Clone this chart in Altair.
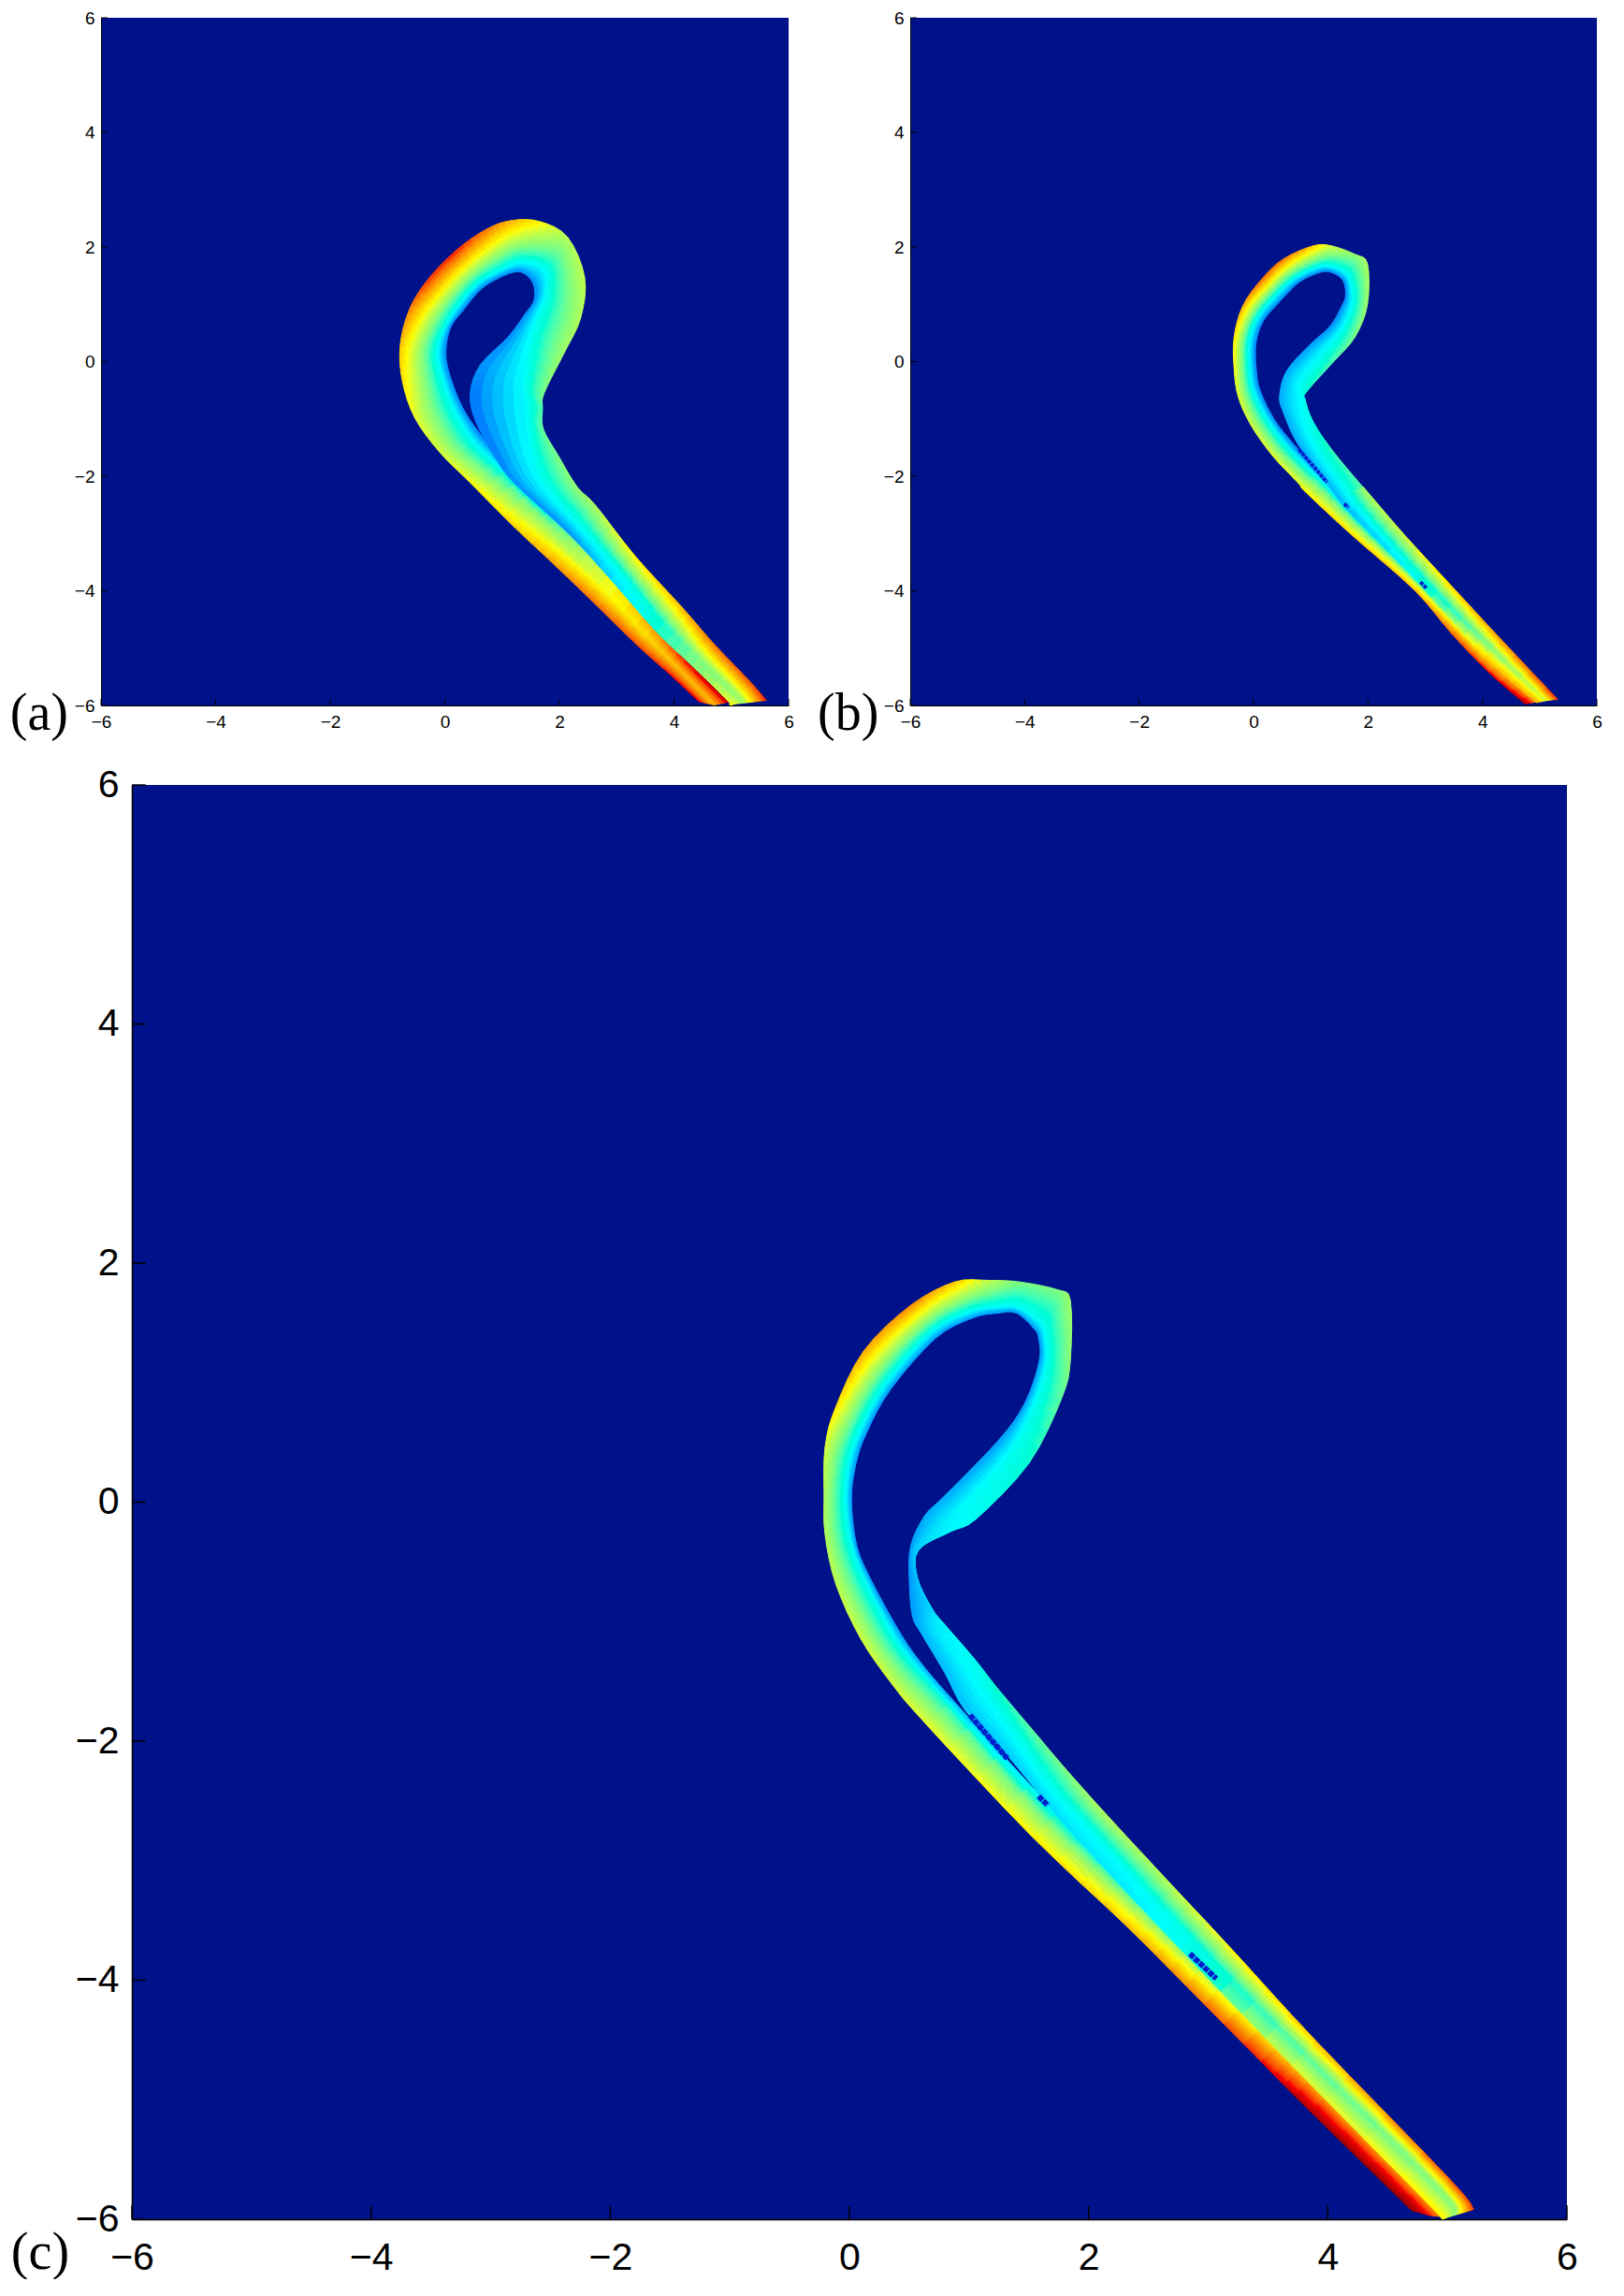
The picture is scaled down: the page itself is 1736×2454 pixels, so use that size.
import altair as alt
import pandas as pd

alt.data_transformers.disable_max_rows()

BG = "#00128a"
JET_STOPS = [0, 0.11, 0.36, 0.5, 0.64, 0.89, 1.0]
JET_COLORS = ["#000080", "#0000ff", "#00ffff", "#80ff80", "#ffff00", "#ff0000", "#800000"]
TICKS = [-6, -4, -2, 0, 2, 4, 6]

# ---- panel (a): cross-sections of the ribbon ----
A_OUTER = [(4.43,-5.93),(3.94,-5.47),(3.37,-4.96),(2.47,-4.08),(1.79,-3.43),(1.216,-2.89),(.40,-2.07),(-.09,-1.58),
           (-.525,-.98),(-.743,-.33),(-.78,.27),(-.634,.87),(-.334,1.385),(.183,1.93),(.727,2.31),(1.162,2.462),
           (1.65,2.446),(2.142,2.174),(2.441,1.466),(2.37,.759),(2.087,.16),(1.734,-.547),(1.706,-.82),(1.717,-1.173),
           (1.978,-1.636),(2.305,-2.18),(2.63,-2.507),(3.31,-3.38),(4.13,-4.275),(4.70,-4.93),(5.325,-5.58),(5.61,-5.91)]
A_TROUGH = [(4.70,-5.99),(4.07,-5.34),(3.53,-4.79),(2.69,-3.87),(2.06,-3.16),(1.54,-2.56),(.84,-1.75),(.45,-1.34),
            (.128,-.765),(-.062,-.22),(-.133,.187),(-.008,.568),(.21,.95),(.574,1.368),(.972,1.602),(1.298,1.738),
            (1.65,1.684),(1.788,1.494),(1.76,1.14),(1.652,.868),(1.489,.378),(1.353,-.33),(1.38,-.71),(1.407,-1.09),
            (1.543,-1.8),(1.815,-2.29),(2.30,-2.83),(3.04,-3.65),(3.83,-4.58),(4.44,-5.19),(5.085,-5.82),(5.19,-5.96)]
A_INNER = [(5.01,-5.93),(4.23,-5.18),(3.70,-4.62),(2.85,-3.70),(2.21,-3.01),(1.65,-2.46),(.94,-1.64),(.59,-1.23),
           (.291,-.765),(.074,-.194),(.019,.187),(.101,.596),(.32,.895),(.645,1.276),(1.053,1.51),(1.325,1.564),
           (1.516,1.412),(1.57,1.22),(1.543,1.031),(1.407,.84),(1.108,.432),(.618,-.06),(.444,-.547),(.536,-1.037),
           (.89,-1.69),(1.217,-2.126),(2.15,-2.99),(2.89,-3.795),(3.69,-4.71),(4.32,-5.31),(4.95,-5.93),(4.96,-5.98)]
A_OUTER_V = [.92,.9,.86,.82,.76,.7,.64,.6,.62,.68,.72,.8,.88,.9,.82,.75,.66,.56,.58,.56,.54,.5,.46,.48,.5,.52,.55,.66,.74,.82,.86,.9]
A_TROUGH_V = [.72,.72,.68,.62,.55,.5,.38,.38,.38,.38,.38,.38,.38,.38,.38,.38,.38,.38,.38,.38,.38,.36,.36,.36,.37,.37,.37,.38,.42,.5,.52,.54]
A_INNER_V = [1.0,.95,.8,.6,.48,.36,.2,.2,.2,.2,.2,.2,.2,.2,.2,.2,.2,.2,.2,.2,.2,.2,.17,.17,.18,.2,.2,.3,.42,.5,.62,.68]
A_SLITS = []

# ---- panel (b) ----
B_OUTER = [(4.74,-5.97),(4.115,-5.427),(3.461,-4.746),(2.808,-3.984),(1.691,-3.004),(.901,-2.268),(.793,-2.131),(.33,-1.641),
           (-.052,-1.097),(-.27,-.606),(-.34,-.116),(-.34,.428),(-.188,.973),(.139,1.436),(.52,1.79),(1.038,2.019),
           (1.364,2.019),(1.773,1.872),(1.991,1.708),(1.991,1.0),(1.773,.428),(1.392,-.007),(.929,-.525),(.902,-.661),
           (1.038,-1.042),(1.364,-1.532),(1.909,-2.186),(1.963,-2.241),(2.644,-3.031),(3.625,-4.093),(4.333,-4.855),(5.313,-5.89)]
B_TROUGH = [(4.85,-5.955),(4.17,-5.373),(3.543,-4.665),(2.873,-3.919),(1.827,-2.867),(1.119,-2.05),(1.038,-1.94),(.602,-1.505),
            (.248,-1.015),(.003,-.536),(-.068,-.116),(-.068,.374),(.084,.783),(.368,1.137),(.711,1.452),(1.147,1.654),
            (1.392,1.654),(1.637,1.518),(1.718,1.245),(1.718,.984),(1.528,.537),(1.147,.129),(.793,-.334),(.738,-.634),
            (.847,-1.0),(1.119,-1.532),(1.555,-2.16),(1.746,-2.459),(2.453,-3.221),(3.434,-4.284),(4.169,-5.019),(5.095,-5.918)]
B_INNER = [(4.96,-5.93),(4.235,-5.307),(3.597,-4.61),(2.933,-3.859),(1.893,-2.802),(1.185,-1.985),(1.108,-1.886),(.684,-1.423),
           (.357,-1.0),(.112,-.497),(.046,-.116),(.041,.32),(.166,.701),(.439,1.028),(.793,1.382),(1.174,1.561),
           (1.392,1.545),(1.566,1.409),(1.61,1.164),(1.544,.973),(1.337,.619),(.956,.265),(.575,-.17),(.455,-.606),
           (.52,-.879),(.765,-1.423),(1.283,-2.131),(1.63,-2.575),(2.36,-3.315),(3.35,-4.37),(4.035,-5.153),(4.94,-5.95)]
B_OUTER_V = [.97,.92,.84,.75,.7,.66,.63,.62,.6,.62,.64,.68,.76,.84,.82,.72,.6,.52,.56,.54,.5,.46,.42,.38,.4,.44,.47,.55,.6,.72,.78,.9]
B_TROUGH_V = [.9,.8,.7,.6,.5,.42,.38,.38,.38,.38,.38,.38,.38,.38,.38,.38,.38,.38,.38,.38,.38,.36,.36,.34,.36,.38,.38,.37,.4,.42,.5,.6]
B_INNER_V = [.78,.72,.55,.4,.35,.25,.2,.2,.2,.2,.2,.2,.2,.2,.2,.2,.2,.2,.2,.2,.2,.22,.24,.24,.24,.24,.25,.25,.3,.5,.72,.75]
B_SLITS = [[(.792,-1.533),(1.283,-2.105)],[(1.582,-2.486),(1.664,-2.541)],[(2.917,-3.848),(3.026,-3.957)]]

# ---- panel (c) ----
C_OUTER = [(4.699,-5.925),(3.851,-5.095),(3.439,-4.678),(2.808,-4.039),(2.286,-3.517),(1.529,-2.80),(.643,-1.86),(.356,-1.522),
           (.095,-1.144),(-.113,-.688),(-.204,-.27),(-.212,.043),(-.204,.46),(-.113,.799),(.122,1.268),(.513,1.647),
           (.878,1.842),(1.165,1.855),(1.426,1.842),(1.739,1.777),(1.848,1.686),(1.848,1.19),(1.778,.877),(1.504,.329),
           (1.061,-.14),(.852,-.244),(.578,-.401),(.57,-.635),(.695,-.896),(.799,-1.026),(1.047,-1.313),(1.23,-1.548),
           (1.516,-1.887),(1.803,-2.226),(2.129,-2.591),(2.599,-3.1),(3.16,-3.70),(3.903,-4.509),(5.025,-5.669),(5.22,-5.917)]
C_TROUGH = [(4.855,-5.969),(3.929,-5.017),(3.517,-4.6),(2.881,-3.966),(2.377,-3.426),(1.647,-2.682),(.812,-1.691),(.525,-1.352),
            (.356,-1.092),(.148,-.688),(.017,-.349),(-.03,.022),(.004,.355),(.101,.629),(.309,1.0),(.682,1.425),
            (1.008,1.594),(1.23,1.634),(1.4,1.634),(1.595,1.503),(1.634,1.394),(1.647,1.177),(1.556,.851),(1.347,.421),
            (.943,-.036),(.748,-.192),(.544,-.38),(.539,-.635),(.63,-.872),(.721,-1.065),(.956,-1.365),(1.138,-1.613),
            (1.399,-2.017),(1.686,-2.408),(1.947,-2.682),(2.429,-3.217),(3.03,-3.83),(3.799,-4.613),(4.94,-5.76),(5.05,-5.969)]
C_INNER = [(4.999,-5.982),(4.005,-4.941),(3.593,-4.524),(2.964,-3.883),(2.45,-3.353),(1.728,-2.601),(.857,-1.647),(.57,-1.308),
           (.408,-1.066),(.2,-.688),(.064,-.375),(.017,.017),(.056,.329),(.148,.59),(.343,.942),(.722,1.373),
           (1.034,1.542),(1.243,1.581),(1.4,1.581),(1.543,1.451),(1.582,1.373),(1.587,1.177),(1.465,.825),(1.243,.512),
           (.8,.056),(.63,-.114),(.513,-.362),(.5,-.635),(.526,-.949),(.604,-1.104),(.799,-1.43),(.969,-1.743),
           (1.321,-2.121),(1.634,-2.5),(1.855,-2.76),(2.35,-3.295),(2.94,-3.92),(3.70,-4.71),(4.83,-5.86),(4.95,-6.0)]
C_OUTER_V = [.99,.97,.9,.8,.72,.66,.62,.6,.6,.58,.56,.56,.6,.68,.76,.8,.72,.58,.5,.5,.54,.52,.48,.42,.38,.36,.3,.28,.3,.35,.38,.42,.47,.5,.56,.56,.64,.72,.86,.88]
C_TROUGH_V = [.9,.85,.78,.66,.58,.52,.42,.4,.38,.38,.38,.38,.38,.38,.38,.38,.38,.38,.38,.38,.38,.38,.38,.38,.36,.33,.27,.25,.28,.33,.36,.37,.36,.37,.37,.37,.4,.46,.5,.52]
C_INNER_V = [.72,.68,.62,.5,.42,.38,.25,.25,.22,.22,.22,.22,.22,.22,.22,.22,.22,.22,.22,.22,.22,.22,.22,.22,.24,.24,.22,.22,.22,.25,.26,.27,.28,.3,.32,.33,.4,.6,.66,.66]
C_SLITS = [[(1.008,-1.782),(1.321,-2.147)],[(1.582,-2.46),(1.66,-2.539)],[(2.847,-3.778),(3.068,-3.987)]]


def spline(points, i, t):
    """Smooth the read cross-sections into a curve for drawing only."""
    p0 = points[max(i - 1, 0)]
    p1 = points[i]
    p2 = points[i + 1]
    p3 = points[min(i + 2, len(points) - 1)]
    out = []
    for k in (0, 1):
        a, b, c, d = p0[k], p1[k], p2[k], p3[k]
        out.append(0.5 * (2 * b + (c - a) * t + (2 * a - 5 * b + 4 * c - d) * t * t + (3 * b - a - 3 * c + d) * t ** 3))
    return out


def section(outer, trough, inner, ov, tv, iv, i, t, n1=12, n2=5):
    o = spline(outer, i, t)
    m = spline(trough, i, t)
    n = spline(inner, i, t)
    vo = ov[i] + (ov[i + 1] - ov[i]) * t
    vm = tv[i] + (tv[i + 1] - tv[i]) * t
    vn = iv[i] + (iv[i + 1] - iv[i]) * t
    pts = []
    for j in range(n1):
        f = j / n1
        pts.append((o[0] + (m[0] - o[0]) * f, o[1] + (m[1] - o[1]) * f, vo + (vm - vo) * f))
    for j in range(n2 + 1):
        f = j / n2
        pts.append((m[0] + (n[0] - m[0]) * f, m[1] + (n[1] - m[1]) * f, vm + (vn - vm) * f))
    return pts


def mesh(outer, trough, inner, ov, tv, iv, along=4):
    rows = []
    pid = 0
    for i in range(len(outer) - 1):
        for s in range(along):
            s0 = section(outer, trough, inner, ov, tv, iv, i, s / along)
            s1 = section(outer, trough, inner, ov, tv, iv, i, (s + 1) / along)
            for j in range(len(s0) - 1):
                v = round((s0[j][2] + s0[j + 1][2] + s1[j][2] + s1[j + 1][2]) / 4, 3)
                quad = [s0[j], s0[j + 1], s1[j + 1], s1[j]]
                for k, q in enumerate(quad):
                    rows.append({"x": round(q[0], 3), "y": round(q[1], 3), "v": v, "p": pid, "k": k})
                pid += 1
    return pd.DataFrame(rows)


def panel(outer, trough, inner, ov, tv, iv, slits, tag, tag_x, tag_dy, w, h, lab_size, pad_x, pad_y,
          slit_w, tick_w, dom_w, tag_size):
    xs = alt.Scale(domain=[-6, 6], nice=False, zero=False)
    ys = alt.Scale(domain=[-6, 6], nice=False, zero=False)
    jet = alt.Scale(domain=JET_STOPS, range=JET_COLORS, clamp=True)
    ax_x = alt.Axis(values=TICKS, title=None, grid=False, ticks=False, labelFont="Liberation Sans",
                    labelFontSize=lab_size, labelColor="black", labelPadding=pad_x, domainColor="black",
                    domainWidth=dom_w, labelOverlap=False, labelFlush=False)
    ax_y = alt.Axis(values=TICKS, title=None, grid=False, ticks=False, labelFont="Liberation Sans",
                    labelFontSize=lab_size, labelColor="black", labelPadding=pad_y, domainColor="black",
                    domainWidth=dom_w, labelOverlap=False, labelFlush=False)
    X = alt.X("x:Q", scale=xs, axis=ax_x)
    Y = alt.Y("y:Q", scale=ys, axis=ax_y)
    layers = []
    ribbon = alt.Chart(mesh(outer, trough, inner, ov, tv, iv)).mark_line(
        interpolate="linear-closed", clip=True, strokeWidth=1, strokeJoin="round"
    ).encode(
        x=X,
        y=Y,
        detail="p:N",
        order="k:Q",
        fill=alt.Fill("v:Q", scale=jet, legend=None),
        stroke=alt.Stroke("v:Q", scale=jet, legend=None),
    )
    layers.append(ribbon)
    if slits:
        sl = pd.DataFrame([{"x": p[0], "y": p[1], "s": n, "k": m}
                           for n, seg in enumerate(slits) for m, p in enumerate(seg)])
        layers.append(alt.Chart(sl).mark_line(color="#0020d0", strokeWidth=slit_w, strokeDash=[slit_w, 1]).encode(
            x=X, y=Y, detail="s:N", order="k:Q"))
    tick_len = 0.115
    tx = pd.DataFrame({"x": TICKS, "y": [-6] * 7, "y2": [-6 + tick_len] * 7})
    ty = pd.DataFrame({"y": TICKS, "x": [-6] * 7, "x2": [-6 + tick_len] * 7})
    layers.append(alt.Chart(tx).mark_rule(color="black", strokeWidth=tick_w).encode(x=X, y=Y, y2="y2:Q"))
    layers.append(alt.Chart(ty).mark_rule(color="black", strokeWidth=tick_w).encode(y=Y, x=X, x2="x2:Q"))
    label = pd.DataFrame({"x": [tag_x], "t": [tag]})
    layers.append(alt.Chart(label).mark_text(font="Liberation Serif", fontSize=tag_size, color="black",
                                             align="center", baseline="middle").encode(
        x=X, y=alt.value(h + tag_dy), text="t:N"))
    return alt.layer(*layers).properties(width=w, height=h, view=alt.ViewBackground(fill=BG, stroke=None))


a = panel(A_OUTER, A_TROUGH, A_INNER, A_OUTER_V, A_TROUGH_V, A_INNER_V, A_SLITS, "(a)", -7.08, 9,
          735, 735, 19, 8, 7, 0, 1, 1, 56)
b = panel(B_OUTER, B_TROUGH, B_INNER, B_OUTER_V, B_TROUGH_V, B_INNER_V, B_SLITS, "(b)", -7.083, 9,
          734, 735, 19, 8, 7, 4, 1, 1, 56)
c = panel(C_OUTER, C_TROUGH, C_INNER, C_OUTER_V, C_TROUGH_V, C_INNER_V, C_SLITS, "(c)", -6.767, 36,
          1534, 1533, 41, 21, 14, 6, 1.5, 1.5, 56)

spacer = alt.Chart(pd.DataFrame({"a": [0]})).mark_point(opacity=0).encode(
    x=alt.value(0), y=alt.value(0)
).properties(width=33, height=1, view=alt.ViewBackground(stroke=None))

top = alt.hconcat(a, b, spacing=25)
bottom = alt.hconcat(spacer, c, spacing=0, bounds="flush")
chart = alt.vconcat(top, bottom, spacing=27).properties(
    padding={"left": 2, "top": 2, "right": 0, "bottom": 0}
).configure(background="white")

chart.save("out.html", embed_options={"renderer": "svg", "actions": False})
